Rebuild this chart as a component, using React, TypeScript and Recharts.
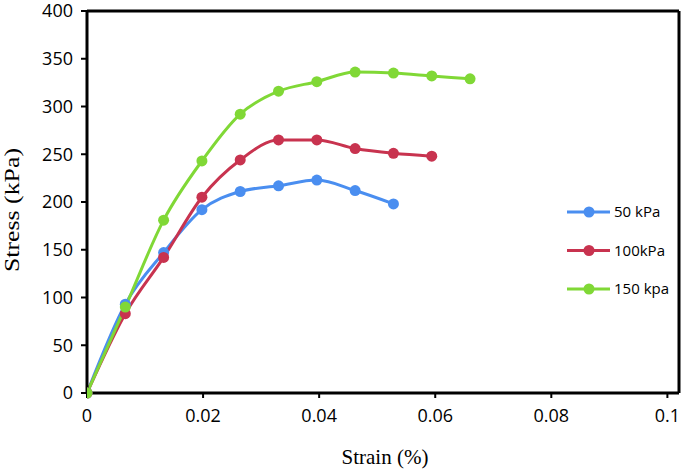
import React from 'react';
import { LineChart, Line, XAxis, YAxis, ReferenceLine, Legend } from 'recharts';

const strain = [0, 0.0066, 0.0132, 0.0198, 0.0264, 0.033, 0.0396, 0.0462, 0.0528, 0.0594, 0.066];
const stress50 = [0, 93, 147, 192, 211, 217, 223, 212, 198];
const stress100 = [0, 83, 142, 205, 244, 265, 265, 256, 251, 248];
const stress150 = [0, 90, 181, 243, 292, 316, 326, 336, 335, 332, 329];
const seriesNames = ['50 kPa', '100kPa', '150 kpa'];
const xTicks = [0, 0.02, 0.04, 0.06, 0.08, 0.1];
const yTicks = [0, 50, 100, 150, 200, 250, 300, 350, 400];

const COLORS = ['#4a8ef0', '#c8334f', '#80d836'];
const TICK_FONT = '"Open Sans", sans-serif';
const TITLE_FONT = '"Liberation Serif", "Times New Roman", serif';

const data = strain.map((x, i) => ({
  x,
  s50: stress50[i],
  s100: stress100[i],
  s150: stress150[i],
}));

const XTitle = (props: any) => {
  const vb = props.viewBox || {};
  return (
    <text x={vb.x + 298} y={464} textAnchor="middle" fontFamily={TITLE_FONT} fontSize={21} fill="#000">
      Strain (%)
    </text>
  );
};

const YTitle = () => {
  return (
    <text
      x={19}
      y={210}
      transform="rotate(-90 19 210)"
      textAnchor="middle"
      fontFamily={TITLE_FONT}
      fontSize={22}
      fill="#000"
      textLength={124}
      lengthAdjust="spacingAndGlyphs"
    >
      Stress (kPa)
    </text>
  );
};

const renderLegend = () => (
  <svg width={125} height={110}>
    {seriesNames.map((name, i) => {
      const y = 16 + i * 38.5;
      return (
        <g key={name}>
          <line x1={7} x2={50} y1={y} y2={y} stroke={COLORS[i]} strokeWidth={3} />
          <circle cx={29} cy={y} r={5.5} fill={COLORS[i]} />
          <text x={54} y={y} dy="0.35em" fontFamily={TICK_FONT} fontSize={15} fill="#000">
            {name}
          </text>
        </g>
      );
    })}
  </svg>
);

export default function App() {
  const keys = ['s50', 's100', 's150'];
  return (
    <div style={{ position: 'absolute', left: 0, top: 0, width: 685, height: 472, background: '#fff' }}>
      <LineChart width={685} height={472} data={data} margin={{ top: 11, right: 6, left: 0, bottom: 0 }}>
        <XAxis
          dataKey="x"
          type="number"
          domain={[0, 0.102]}
          ticks={xTicks}
          allowDataOverflow
          height={79}
          tickSize={5}
          tickMargin={11}
          axisLine={{ stroke: '#000', strokeWidth: 3 }}
          tickLine={{ stroke: '#000', strokeWidth: 2 }}
          tick={{ fill: '#000', fontSize: 18, fontFamily: TICK_FONT }}
          tickFormatter={(v: number) => String(v)}
          label={<XTitle />}
        />
        <YAxis
          type="number"
          domain={[0, 400]}
          ticks={yTicks}
          width={87}
          tickSize={6}
          tickMargin={8}
          axisLine={{ stroke: '#000', strokeWidth: 3 }}
          tickLine={{ stroke: '#000', strokeWidth: 2 }}
          tick={{ fill: '#000', fontSize: 18, fontFamily: TICK_FONT }}
          label={<YTitle />}
        />
        <ReferenceLine y={400} stroke="#000" strokeWidth={3} />
        <ReferenceLine x={0.102} stroke="#000" strokeWidth={3} />
        {keys.map((k, i) => (
          <Line
            key={k}
            dataKey={k}
            name={seriesNames[i]}
            type="monotone"
            stroke={COLORS[i]}
            strokeWidth={3}
            dot={{ r: 5.5, fill: COLORS[i], stroke: COLORS[i], strokeWidth: 0 }}
            activeDot={false}
            isAnimationActive={false}
          />
        ))}
        <Legend
          layout="vertical"
          align="center"
          verticalAlign="middle"
          content={renderLegend}
          wrapperStyle={{ left: 560, top: 196, width: 125, height: 110 }}
        />
      </LineChart>
    </div>
  );
}
